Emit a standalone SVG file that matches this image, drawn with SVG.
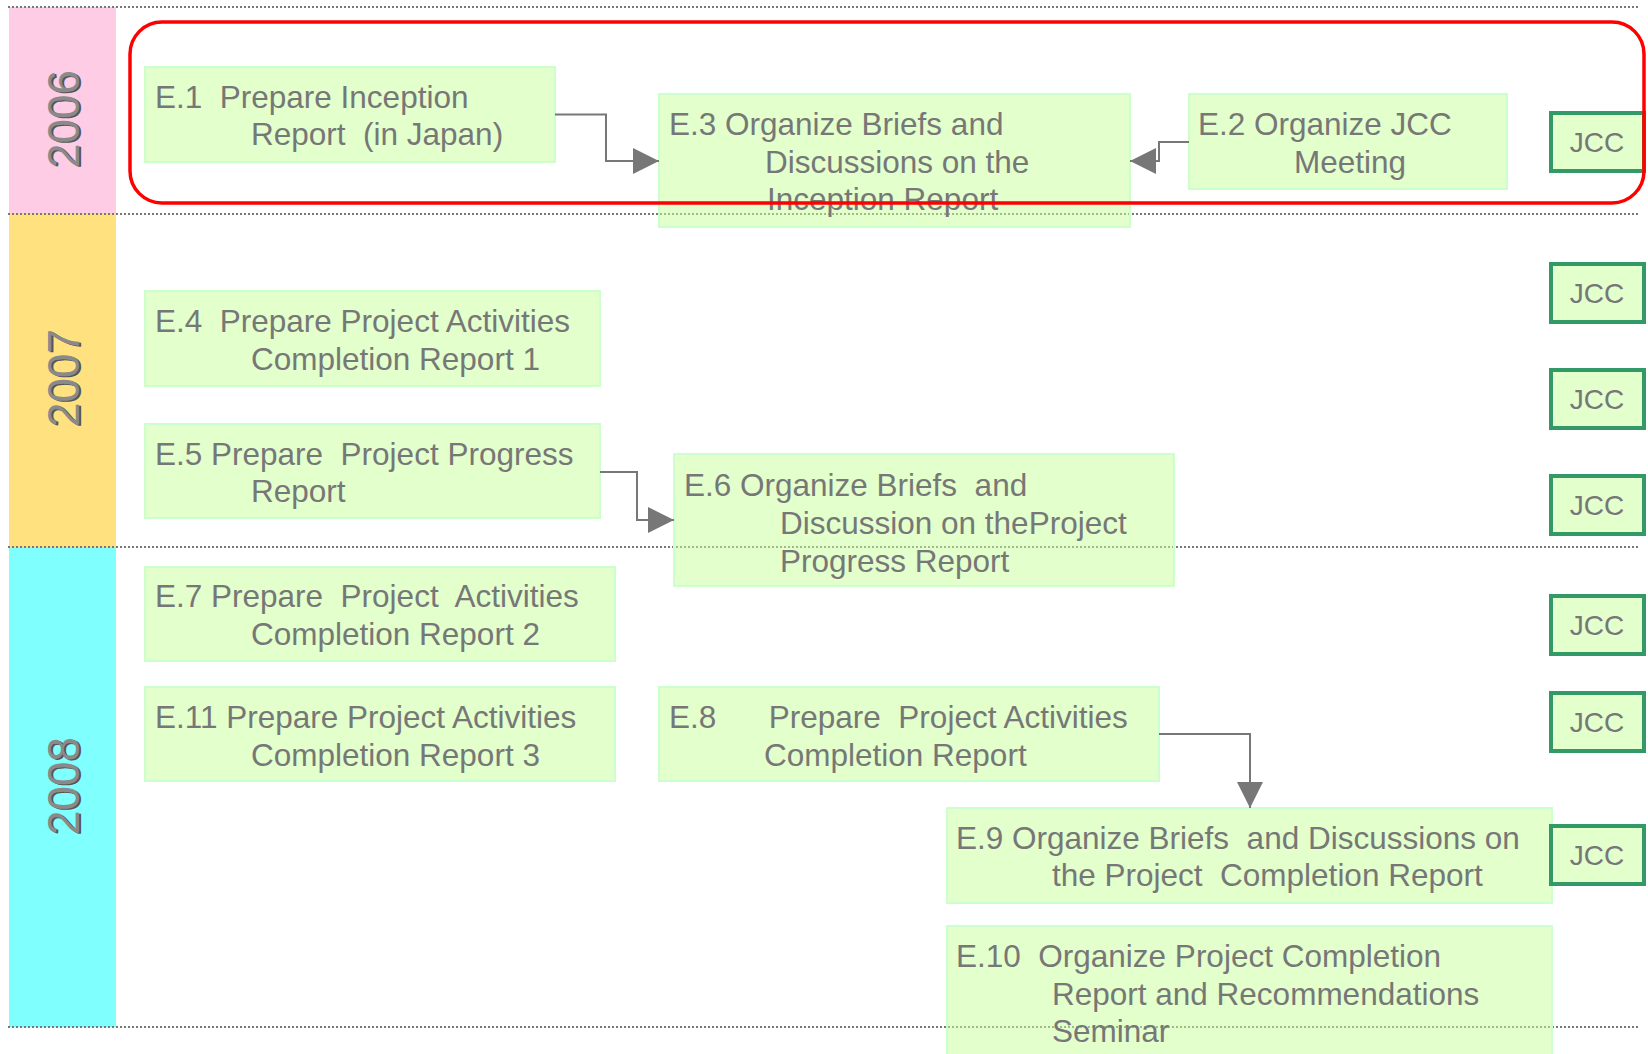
<svg xmlns="http://www.w3.org/2000/svg" width="1648" height="1054" viewBox="0 0 1648 1054" xml:space="preserve">
<defs>
<style>
.band{stroke:none}
.dot{stroke:#777;stroke-width:2;stroke-dasharray:2 2;fill:none}
.yr{font-family:"Liberation Sans",Arial,sans-serif;font-size:44px;text-anchor:middle;fill:#8a8a8a}
.yrs{font-family:"Liberation Sans",Arial,sans-serif;font-size:44px;text-anchor:middle;fill:#555}
.box{fill:#c6ff99;fill-opacity:0.5;stroke:#ccffcc;stroke-width:2}
.jcc{fill:#e2ffcc;stroke:#339966;stroke-width:4}
.t{font-family:"Liberation Sans",Arial,sans-serif;font-size:31.5px;fill:#777;white-space:pre}
.jt{font-family:"Liberation Sans",Arial,sans-serif;font-size:28px;fill:#777;text-anchor:middle}
.conn{stroke:#777;stroke-width:2;fill:none;marker-end:url(#arr)}
</style>
<marker id="arr" markerUnits="userSpaceOnUse" markerWidth="26" markerHeight="26" refX="26" refY="13" orient="auto">
<path d="M0,0 L26,13 L0,26 z" fill="#777"/>
</marker>
</defs>
<rect width="1648" height="1054" fill="#fff"/>

<g id="bands">
<rect class="band" x="9" y="7" width="107" height="207" fill="#ffcce5"/>
<rect class="band" x="9" y="214" width="107" height="333" fill="#ffe17f"/>
<rect class="band" x="9" y="547" width="107" height="480" fill="#80ffff"/>
</g>

<g id="gridlines">
<line class="dot" x1="8" y1="7" x2="1640" y2="7"/>
<line class="dot" x1="8" y1="214" x2="1640" y2="214"/>
<line class="dot" x1="8" y1="547" x2="1640" y2="547"/>
<line class="dot" x1="8" y1="1027" x2="1640" y2="1027"/>
</g>

<g id="years">
<g id="y2006" transform="translate(79,119) rotate(-90)"><text class="yrs" x="-1" y="2">2006</text><text class="yr" x="0" y="0">2006</text></g>
<g id="y2007" transform="translate(79,378) rotate(-90)"><text class="yrs" x="-1" y="2">2007</text><text class="yr" x="0" y="0">2007</text></g>
<g id="y2008" transform="translate(79,786) rotate(-90)"><text class="yrs" x="-1" y="2">2008</text><text class="yr" x="0" y="0">2008</text></g>
</g>

<g id="E1"><rect class="box" x="145" y="67" width="410" height="95"/>
<text class="t" x="155" y="108">E.1  Prepare Inception</text>
<text class="t" x="251" y="145">Report  (in Japan)</text></g>

<g id="E3"><rect class="box" x="659" y="94" width="471" height="133"/>
<text class="t" x="669" y="135">E.3 Organize Briefs and</text>
<text class="t" x="765" y="173">Discussions on the</text>
<text class="t" x="767" y="210">Inception Report</text></g>

<g id="E2"><rect class="box" x="1189" y="94" width="318" height="95"/>
<text class="t" x="1198" y="135">E.2 Organize JCC</text>
<text class="t" x="1294" y="173">Meeting</text></g>

<g id="E4"><rect class="box" x="145" y="291" width="455" height="95"/>
<text class="t" x="155" y="332">E.4  Prepare Project Activities</text>
<text class="t" x="251" y="370">Completion Report 1</text></g>

<g id="E5"><rect class="box" x="145" y="424" width="455" height="94"/>
<text class="t" x="155" y="465">E.5 Prepare  Project Progress</text>
<text class="t" x="251" y="502">Report</text></g>

<g id="E6"><rect class="box" x="674" y="454" width="500" height="132"/>
<text class="t" x="684" y="496">E.6 Organize Briefs  and</text>
<text class="t" x="780" y="534">Discussion on theProject</text>
<text class="t" x="780" y="572">Progress Report</text></g>

<g id="E7"><rect class="box" x="145" y="567" width="470" height="94"/>
<text class="t" x="155" y="607">E.7 Prepare  Project  Activities</text>
<text class="t" x="251" y="645">Completion Report 2</text></g>

<g id="E11"><rect class="box" x="145" y="687" width="470" height="94"/>
<text class="t" x="155" y="728">E.11 Prepare Project Activities</text>
<text class="t" x="251" y="766">Completion Report 3</text></g>

<g id="E8"><rect class="box" x="659" y="687" width="500" height="94"/>
<text class="t" x="669" y="728">E.8      Prepare  Project Activities</text>
<text class="t" x="764" y="766">Completion Report</text></g>

<g id="E9"><rect class="box" x="947" y="808" width="605" height="95"/>
<text class="t" x="956" y="849">E.9 Organize Briefs  and Discussions on</text>
<text class="t" x="1052" y="886">the Project  Completion Report</text></g>

<g id="E10"><rect class="box" x="947" y="926" width="605" height="130"/>
<text class="t" x="956" y="967">E.10  Organize Project Completion</text>
<text class="t" x="1052" y="1005">Report and Recommendations</text>
<text class="t" x="1052" y="1042">Seminar</text></g>

<g id="JCC1"><rect class="jcc" x="1551" y="113" width="93" height="58"/><text class="jt" x="1597" y="152">JCC</text></g>
<g id="JCC2"><rect class="jcc" x="1551" y="264" width="93" height="58"/><text class="jt" x="1597" y="303">JCC</text></g>
<g id="JCC3"><rect class="jcc" x="1551" y="370" width="93" height="58"/><text class="jt" x="1597" y="409">JCC</text></g>
<g id="JCC4"><rect class="jcc" x="1551" y="476" width="93" height="58"/><text class="jt" x="1597" y="515">JCC</text></g>
<g id="JCC5"><rect class="jcc" x="1551" y="596" width="93" height="58"/><text class="jt" x="1597" y="635">JCC</text></g>
<g id="JCC6"><rect class="jcc" x="1551" y="693" width="93" height="58"/><text class="jt" x="1597" y="732">JCC</text></g>
<g id="JCC7"><rect class="jcc" x="1551" y="826" width="93" height="58"/><text class="jt" x="1597" y="865">JCC</text></g>

<g id="connectors">
<path class="conn" d="M555,114.5 H606 V161 H659"/>
<path class="conn" d="M1189,142 H1159 V161 H1130"/>
<path class="conn" d="M600,472 H637 V520 H674"/>
<path class="conn" d="M1159,734 H1250 V808"/>
</g>

<g id="highlight">
<rect x="130" y="22" width="1514" height="181" rx="32" ry="32" fill="none" stroke="#ff0000" stroke-width="3.5"/>
</g>
</svg>
